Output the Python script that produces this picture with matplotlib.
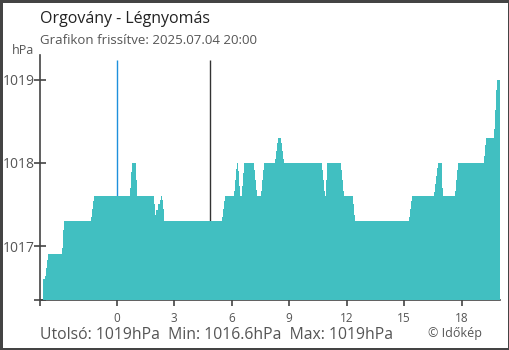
import matplotlib
matplotlib.use("Agg")
import matplotlib.pyplot as plt

plt.rcParams['font.family'] = ['Open Sans', 'DejaVu Sans']

# oraban a ejfelhez kepest, ahol a nyomas valtozik (lepcsos)
ido = [-3.82, -3.74, -3.67, -3.62, -3.56, -2.83, -2.78, -2.73, -1.32, -1.27,
       -1.22, -1.16, 0.72, 0.77, 0.82, 1.03, 1.08, 1.97, 2.02, 2.07,
       2.18, 2.24, 2.30, 2.35, 2.40, 2.45, 2.49, 5.51, 5.57, 5.62,
       5.67, 6.14, 6.19, 6.24, 6.30, 6.35, 6.40, 6.45, 6.56, 6.61,
       6.66, 7.18, 7.24, 7.29, 7.34, 7.55, 7.60, 7.65, 7.71, 8.28,
       8.33, 8.38, 8.44, 8.59, 8.64, 8.70, 8.75, 10.73, 10.78, 10.84,
       10.89, 10.94, 10.99, 11.72, 11.77, 11.83, 11.88, 12.35, 12.40, 12.45,
       15.27, 15.32, 15.37, 15.43, 16.57, 16.63, 16.68, 16.73, 16.78, 16.99,
       17.04, 17.67, 17.72, 17.77, 17.83, 19.18, 19.23, 19.29, 19.70, 19.76,
       19.81, 19.86]
nyomas = [1016.60, 1016.64, 1016.73, 1016.83, 1016.90, 1016.98, 1017.19, 1017.30, 1017.35, 1017.45,
          1017.54, 1017.60, 1017.70, 1017.89, 1018.00, 1017.80, 1017.60, 1017.50, 1017.37, 1017.43,
          1017.51, 1017.56, 1017.60, 1017.55, 1017.45, 1017.35, 1017.30, 1017.35, 1017.45, 1017.54,
          1017.60, 1017.66, 1017.80, 1017.93, 1018.00, 1017.90, 1017.72, 1017.60, 1017.72, 1017.88,
          1018.00, 1017.92, 1017.80, 1017.68, 1017.60, 1017.66, 1017.80, 1017.92, 1018.00, 1018.05,
          1018.14, 1018.24, 1018.30, 1018.24, 1018.14, 1018.05, 1018.00, 1017.92, 1017.80, 1017.66,
          1017.60, 1017.80, 1018.00, 1017.92, 1017.80, 1017.66, 1017.60, 1017.51, 1017.37, 1017.30,
          1017.35, 1017.45, 1017.54, 1017.60, 1017.65, 1017.75, 1017.84, 1017.94, 1018.00, 1017.70,
          1017.60, 1017.66, 1017.80, 1017.92, 1018.00, 1018.08, 1018.22, 1018.30, 1018.41, 1018.64,
          1018.88, 1019.00]
vege = 20.0
ejfel = 0
napkelte = 4.85
xticks = [0, 3, 6, 9, 12, 15, 18]
yticks = [1017, 1018, 1019]

szin = '#41bfc1'
szurke = '#444444'

fig = plt.figure(figsize=(5.1, 3.5), dpi=100)
fig.patch.set_edgecolor(szurke)
fig.patch.set_linewidth(2.5)
ax = fig.add_axes([40/510, 50/350, 460/510, 245/350])

alap = 1016.35
x = ido + [vege]
y = nyomas + [nyomas[-1]]
ax.fill_between(x, y, alap, step='post', color=szin, linewidth=0, zorder=3)

ax.vlines(ejfel, alap, 1019.24, color='#1e90dc', linewidth=1, zorder=2)
ax.vlines(napkelte, alap, 1019.24, color='#333333', linewidth=1, zorder=2)

ax.set_xlim(-4, 20)
ax.set_ylim(alap, 1019.3)
for s in ['top', 'right']:
    ax.spines[s].set_visible(False)
for s in ['left', 'bottom']:
    ax.spines[s].set_color(szurke)
    ax.spines[s].set_linewidth(1.2)

ax.set_xticks([-4] + xticks)
ax.set_xticklabels([''] + [str(t) for t in xticks])
ax.tick_params(axis='x', direction='out', length=4, width=1.2, color=szurke,
               labelsize=8.5, labelcolor='#555555', pad=5)
ax.get_xticklines()[2].set_color('#1e90dc')
ax.set_yticks([alap] + yticks)
ax.set_yticklabels([''] + [str(t) for t in yticks])
ax.tick_params(axis='y', direction='inout', length=9, width=1.2, color=szurke,
               labelsize=10, labelcolor='#555555', pad=-1)

fig.text(40/510, 1 - 19/350, 'Orgovány - Légnyomás', fontsize=11.5, color='#222222', va='center')
fig.text(40/510, 1 - 40/350, 'Grafikon frissítve: 2025.07.04 20:00', fontsize=9.5, color='#555555', va='center')
fig.text(12/510, 1 - 50/350, 'hPa', fontsize=9, color='#555555', va='center')
fig.text(40/510, 1 - 335/350, 'Utolsó: 1019hPa  Min: 1016.6hPa  Max: 1019hPa',
         fontsize=11.3, color='#555555', va='center')
fig.text(482/510, 1 - 333/350, '© Időkép', fontsize=9, color='#555555', va='center', ha='right')

fig.savefig('out.png', dpi=100)
